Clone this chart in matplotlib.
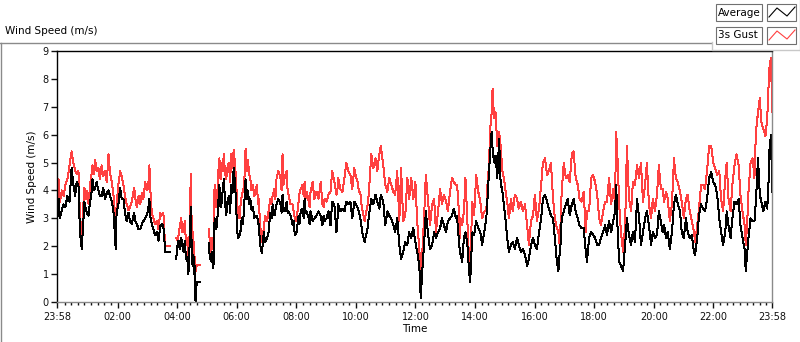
import numpy as np
import matplotlib
matplotlib.use("Agg")
import matplotlib.pyplot as plt
from matplotlib.patches import Rectangle
from matplotlib.lines import Line2D

# hours after 23:58 (start of the record), NaN marks a gap in the logging
hours = [
    0.00, 0.05, 0.10, 0.16, 0.22, 0.28, 0.35, 0.42, 0.49, 0.55, 0.61, 0.66, 0.72, 0.77, 0.83, 0.88,
    0.92, 0.97, 1.00, 1.06, 1.11, 1.15, 1.19, 1.24, 1.28, 1.33, 1.39, 1.44, 1.50, 1.55, 1.61, 1.67,
    1.73, 1.78, 1.84, 1.90, 1.95, 1.97, 2.00, 2.06, 2.12, 2.17, 2.23, 2.28, 2.34, 2.40, 2.45, 2.51,
    2.59, 2.63, 2.68, 2.74, 2.79, 2.85, 2.90, 2.96, 3.01, 3.06, 3.10, 3.14, 3.18, 3.24, 3.29, 3.35,
    3.41, 3.46, 3.52, 3.57, 3.60, 3.63, 3.80, 3.88, 4.00, 4.04, 4.08, 4.12, 4.17, 4.21, 4.25, 4.29,
    4.33, 4.37, 4.41, 4.45, 4.49, 4.52, 4.55, 4.58, 4.60, 4.63, 4.65, 4.69, 4.81, 4.95, 5.09, 5.13,
    5.18, 5.22, 5.25, 5.29, 5.33, 5.37, 5.41, 5.45, 5.49, 5.52, 5.56, 5.60, 5.64, 5.68, 5.72, 5.77,
    5.81, 5.85, 5.89, 5.93, 5.97, 6.00, 6.05, 6.09, 6.13, 6.17, 6.20, 6.24, 6.27, 6.30, 6.33, 6.37,
    6.41, 6.45, 6.49, 6.53, 6.58, 6.62, 6.67, 6.71, 6.75, 6.77, 6.82, 6.88, 6.94, 6.99, 7.05, 7.10,
    7.16, 7.20, 7.24, 7.30, 7.33, 7.37, 7.43, 7.50, 7.54, 7.57, 7.60, 7.64, 7.71, 7.74, 7.77, 7.84,
    7.91, 7.95, 7.98, 8.04, 8.11, 8.14, 8.18, 8.24, 8.28, 8.31, 8.34, 8.38, 8.45, 8.48, 8.51, 8.58,
    8.64, 8.71, 8.78, 8.85, 8.91, 8.95, 8.98, 9.05, 9.11, 9.18, 9.24, 9.31, 9.38, 9.41, 9.44, 9.51,
    9.58, 9.65, 9.71, 9.78, 9.85, 9.91, 9.98, 10.04, 10.10, 10.13, 10.18, 10.22, 10.26, 10.33, 10.37, 10.41,
    10.45, 10.49, 10.55, 10.62, 10.69, 10.75, 10.82, 10.87, 10.95, 11.02, 11.09, 11.15, 11.22, 11.29, 11.35, 11.42,
    11.49, 11.55, 11.62, 11.69, 11.76, 11.82, 11.89, 11.96, 12.03, 12.09, 12.16, 12.21, 12.25, 12.32, 12.38, 12.45,
    12.52, 12.59, 12.66, 12.72, 12.79, 12.86, 12.92, 12.99, 13.06, 13.12, 13.19, 13.26, 13.32, 13.39, 13.43, 13.46,
    13.49, 13.52, 13.55, 13.60, 13.66, 13.71, 13.77, 13.83, 13.87, 13.94, 14.00, 14.07, 14.14, 14.21, 14.27, 14.34,
    14.41, 14.45, 14.50, 14.54, 14.59, 14.62, 14.67, 14.72, 14.78, 14.84, 14.89, 14.95, 15.00, 15.06, 15.11, 15.17,
    15.24, 15.30, 15.37, 15.44, 15.50, 15.57, 15.64, 15.71, 15.78, 15.84, 15.91, 15.98, 16.04, 16.11, 16.18, 16.25,
    16.31, 16.38, 16.45, 16.51, 16.58, 16.65, 16.71, 16.78, 16.83, 16.87, 16.90, 16.94, 17.01, 17.08, 17.14, 17.21,
    17.28, 17.34, 17.41, 17.48, 17.54, 17.61, 17.68, 17.75, 17.79, 17.86, 17.93, 18.00, 18.06, 18.13, 18.20, 18.26,
    18.33, 18.40, 18.46, 18.53, 18.60, 18.67, 18.73, 18.77, 18.82, 18.87, 18.93, 19.00, 19.07, 19.13, 19.20, 19.27,
    19.33, 19.40, 19.47, 19.54, 19.60, 19.67, 19.74, 19.80, 19.87, 19.94, 20.00, 20.07, 20.14, 20.20, 20.27, 20.33,
    20.38, 20.44, 20.50, 20.57, 20.64, 20.71, 20.77, 20.84, 20.91, 20.97, 21.04, 21.11, 21.17, 21.24, 21.31, 21.38,
    21.42, 21.49, 21.55, 21.62, 21.69, 21.75, 21.82, 21.89, 21.96, 22.03, 22.09, 22.16, 22.23, 22.29, 22.36, 22.43,
    22.48, 22.54, 22.61, 22.67, 22.74, 22.81, 22.88, 22.94, 23.01, 23.08, 23.12, 23.17, 23.21, 23.28, 23.35, 23.41,
    23.46, 23.53, 23.59, 23.64, 23.71, 23.78, 23.84, 23.88, 23.92, 23.97, 24.00,
]

nan = float("nan")

average = [
    2.75, 3.70, 3.00, 3.30, 3.50, 3.40, 3.80, 3.60, 4.80, 4.20, 3.80, 4.30, 4.20, 2.50, 1.90, 2.80,
    3.60, 3.30, 3.20, 3.10, 3.60, 3.80, 4.40, 4.00, 4.10, 4.30, 4.00, 3.80, 3.80, 4.10, 3.70, 3.90,
    4.00, 3.80, 3.60, 3.20, 2.30, 1.90, 3.20, 3.50, 4.10, 3.70, 3.70, 3.20, 2.90, 3.20, 2.90, 2.80,
    3.20, 2.90, 2.80, 2.60, 2.60, 2.80, 2.90, 3.00, 3.10, 3.30, 3.70, 3.00, 2.80, 2.60, 2.40, 2.50,
    2.20, 2.70, 2.80, 2.70, 2.30, 1.80, 1.80, nan, 1.55, 2.00, 2.20, 1.90, 2.30, 2.00, 1.80, 2.20,
    1.55, 1.60, 1.00, 2.00, 3.40, 2.00, 1.30, 1.70, 1.00, 1.30, 0.00, 0.73, 0.73, nan, 2.10, 1.60,
    1.45, 1.80, 1.20, 3.00, 2.60, 2.75, 3.50, 4.20, 3.40, 3.50, 4.00, 4.40, 3.60, 3.10, 3.60, 3.80,
    3.20, 4.20, 3.90, 4.80, 4.30, 3.80, 2.50, 2.30, 2.40, 2.60, 3.00, 2.80, 3.20, 3.80, 4.40, 3.70,
    4.00, 3.50, 3.70, 3.30, 3.40, 3.00, 3.10, 3.10, 2.90, 2.75, 2.05, 1.75, 2.50, 2.15, 2.30, 2.50,
    3.20, 3.00, 3.50, 3.10, 3.30, 3.50, 3.70, 3.50, 3.20, 3.85, 3.40, 3.25, 3.60, 3.20, 3.25, 3.10,
    2.75, 2.90, 2.40, 2.50, 3.10, 2.80, 3.25, 3.35, 3.00, 3.70, 3.20, 3.25, 3.00, 2.80, 3.25, 2.90,
    3.00, 3.10, 3.25, 3.10, 2.75, 3.10, 2.90, 3.00, 3.25, 2.75, 3.60, 3.50, 2.50, 2.90, 3.50, 3.25,
    3.35, 3.25, 3.60, 3.50, 3.60, 3.00, 3.60, 3.50, 3.35, 3.25, 3.00, 2.70, 2.40, 2.15, 2.40, 2.50,
    2.90, 3.25, 3.70, 3.50, 3.85, 3.60, 3.35, 3.85, 3.60, 2.75, 3.25, 3.10, 3.00, 2.75, 2.50, 3.00,
    2.05, 1.55, 1.80, 2.15, 2.05, 2.50, 2.30, 2.65, 2.15, 1.80, 1.30, 0.13, 0.95, 2.05, 3.25, 2.50,
    1.90, 2.05, 2.50, 2.30, 2.50, 2.65, 3.00, 2.75, 2.50, 2.90, 3.00, 3.10, 3.35, 3.00, 3.10, 2.50,
    2.30, 1.80, 1.70, 1.45, 2.30, 2.50, 2.15, 1.10, 0.73, 2.50, 2.40, 2.90, 2.65, 2.50, 2.05, 2.50,
    3.00, 3.70, 4.65, 5.40, 6.10, 5.50, 5.00, 5.25, 4.45, 5.85, 4.30, 3.95, 3.50, 2.90, 2.30, 1.80,
    2.05, 2.15, 1.90, 2.30, 2.05, 1.80, 1.90, 1.70, 1.30, 1.55, 2.05, 2.30, 2.05, 1.90, 2.50, 3.00,
    3.70, 3.85, 3.60, 3.35, 3.10, 3.00, 2.30, 1.45, 1.10, 1.70, 2.05, 3.00, 3.25, 3.50, 3.70, 3.10,
    3.50, 3.70, 3.25, 3.00, 2.75, 2.65, 2.65, 1.80, 1.45, 2.30, 2.50, 2.40, 2.30, 2.05, 2.05, 2.30,
    2.50, 2.75, 2.40, 2.90, 2.50, 2.90, 3.25, 4.20, 2.50, 1.45, 1.30, 1.10, 2.05, 3.00, 2.40, 2.05,
    2.50, 2.15, 3.70, 3.00, 2.05, 2.50, 3.00, 3.25, 2.75, 2.05, 2.50, 2.30, 2.40, 3.25, 2.90, 2.50,
    2.75, 2.30, 2.50, 1.90, 2.50, 3.50, 3.85, 3.50, 3.25, 2.50, 2.30, 3.00, 2.50, 2.30, 2.40, 1.80,
    1.70, 2.30, 3.10, 3.50, 3.35, 3.25, 3.70, 4.45, 4.65, 4.30, 4.20, 3.85, 3.00, 2.50, 2.05, 2.50,
    3.25, 2.75, 2.30, 3.00, 3.60, 3.50, 3.70, 2.75, 2.30, 1.90, 1.10, 1.80, 2.30, 3.00, 2.90, 2.90,
    3.60, 5.15, 3.85, 3.60, 3.25, 3.60, 3.35, 4.20, 5.60, 6.00, 3.95,
]

gust = [
    3.20, 4.40, 3.60, 4.00, 3.80, 4.20, 4.40, 4.90, 5.40, 5.00, 4.70, 4.60, 4.70, 3.10, 2.30, 3.40,
    4.10, 3.70, 4.00, 3.50, 4.20, 4.50, 4.90, 4.60, 5.10, 4.70, 4.80, 4.40, 4.90, 4.50, 4.70, 4.30,
    5.30, 4.60, 4.30, 3.80, 2.80, 2.30, 3.50, 4.20, 4.70, 4.50, 4.20, 3.80, 3.50, 3.30, 3.40, 3.60,
    4.10, 3.70, 3.40, 3.80, 3.50, 3.90, 3.70, 4.30, 4.00, 4.10, 4.90, 3.90, 3.20, 3.00, 2.80, 2.90,
    2.60, 3.20, 3.10, 3.20, 2.60, 2.00, 2.00, nan, 2.30, 2.20, 2.40, 2.70, 3.00, 2.50, 2.50, 2.90,
    2.05, 2.30, 1.60, 2.40, 4.60, 2.80, 2.50, 2.20, 1.80, 1.50, 1.10, 1.33, 1.33, nan, 2.60, 2.20,
    1.80, 2.30, 2.00, 4.20, 3.40, 3.60, 4.60, 5.15, 4.40, 5.00, 4.70, 5.30, 4.60, 4.40, 4.80, 5.00,
    4.30, 5.30, 4.80, 5.45, 5.00, 4.55, 3.50, 3.10, 3.00, 3.60, 3.80, 4.00, 4.10, 4.60, 5.50, 4.70,
    5.10, 4.60, 4.40, 4.00, 4.20, 3.80, 4.00, 4.20, 3.50, 3.70, 2.75, 2.15, 2.65, 3.10, 2.90, 3.25,
    3.70, 3.50, 3.85, 4.05, 3.70, 4.45, 4.70, 4.45, 4.00, 5.30, 4.20, 4.45, 4.70, 4.00, 3.85, 3.50,
    3.50, 3.20, 3.00, 2.90, 3.60, 3.90, 4.05, 4.20, 3.80, 4.30, 3.70, 3.95, 3.60, 3.40, 3.95, 4.30,
    3.70, 3.95, 3.70, 4.30, 3.50, 3.40, 3.70, 3.60, 3.85, 3.95, 4.70, 4.30, 3.85, 4.00, 4.45, 4.05,
    3.95, 4.45, 5.00, 4.70, 4.55, 4.05, 4.80, 4.45, 4.30, 3.95, 3.95, 3.50, 3.25, 2.90, 3.20, 3.35,
    3.70, 4.30, 5.30, 4.80, 5.15, 4.70, 5.30, 5.60, 4.90, 4.20, 3.95, 4.45, 4.20, 3.95, 3.85, 4.70,
    2.90, 4.80, 2.90, 3.10, 4.45, 3.70, 4.45, 3.70, 4.30, 2.90, 1.90, 1.10, 1.55, 3.00, 4.55, 3.70,
    2.75, 3.50, 3.70, 2.50, 3.25, 4.05, 3.50, 3.85, 3.60, 3.25, 3.95, 4.45, 4.30, 4.20, 4.20, 3.70,
    3.25, 2.30, 3.00, 2.75, 3.25, 4.45, 3.00, 1.55, 1.30, 3.60, 3.10, 4.55, 3.95, 3.60, 3.00, 3.25,
    3.25, 4.20, 4.90, 6.20, 6.80, 7.65, 6.60, 6.80, 5.60, 6.10, 5.60, 4.70, 4.45, 3.95, 3.60, 3.00,
    3.70, 3.25, 3.85, 3.70, 3.35, 3.60, 3.25, 3.50, 2.75, 2.05, 2.90, 3.10, 3.85, 2.90, 3.35, 4.20,
    5.00, 5.15, 4.55, 4.70, 5.00, 3.70, 3.00, 2.65, 2.50, 2.05, 2.75, 3.95, 5.00, 4.45, 4.55, 4.30,
    5.30, 5.40, 4.45, 4.20, 3.70, 3.60, 3.95, 2.50, 3.25, 3.25, 4.45, 4.55, 4.30, 3.85, 3.00, 2.75,
    3.25, 3.60, 3.60, 4.45, 3.50, 4.05, 3.60, 6.10, 5.00, 3.50, 2.50, 1.80, 2.75, 5.60, 3.70, 3.25,
    4.30, 4.20, 4.90, 4.45, 5.00, 3.60, 4.20, 5.00, 3.50, 3.00, 3.70, 3.25, 3.85, 4.90, 4.05, 4.05,
    3.60, 3.95, 3.70, 2.90, 3.50, 5.15, 4.45, 4.30, 3.95, 3.60, 3.00, 3.70, 3.85, 3.25, 2.90, 2.50,
    2.15, 2.75, 3.35, 4.20, 4.20, 4.05, 4.70, 5.60, 5.60, 5.00, 4.80, 4.55, 4.70, 3.70, 3.25, 4.45,
    5.00, 3.70, 3.25, 4.20, 4.90, 5.30, 4.90, 3.85, 3.25, 2.75, 2.05, 2.90, 3.95, 5.00, 5.15, 4.45,
    6.10, 6.80, 7.30, 6.45, 6.20, 5.95, 6.60, 7.65, 8.50, 8.75, 6.80,
]

major_hours = [0.0] + [2 + 1 / 30 + 2 * k for k in range(11)] + [24.0]
major_labels = ["23:58", "02:00", "04:00", "06:00", "08:00", "10:00", "12:00",
                "14:00", "16:00", "18:00", "20:00", "22:00", "23:58"]
minor_hours = [1 / 30 + k * 2 / 9 for k in range(108) if k % 9 != 0]

W, H = 800, 342
fig = plt.figure(figsize=(W / 100, H / 100), dpi=100)
fig.patch.set_facecolor("white")


def fx(x):
    return x / W


def fy(y):
    return 1 - y / H


ax = fig.add_axes([fx(57), fy(302), 715 / W, 251 / H])
ax.plot(hours, gust, color="#ff4040", lw=0.72, antialiased=False)
ax.plot(hours, average, color="black", lw=0.72, antialiased=False)
ax.set_xlim(0, 24)
ax.set_ylim(0, 9)

ax.set_xticks(major_hours)
ax.set_xticklabels(major_labels)
ax.set_xticks(minor_hours, minor=True)
ax.set_yticks(range(10))
ax.tick_params(axis="both", which="major", direction="out", length=4, width=1,
               labelsize=7, colors="#101010", pad=2)
ax.tick_params(axis="x", which="minor", direction="out", length=2.5, width=1, colors="#101010")
ax.tick_params(axis="x", which="major", length=4, pad=3)

for side in ["left", "top"]:
    ax.spines[side].set_color("black")
    ax.spines[side].set_linewidth(1.0)
for side in ["right", "bottom"]:
    ax.spines[side].set_color("#8a8a8a")
    ax.spines[side].set_linewidth(1.0)

ax.set_ylabel("Wind Speed (m/s)", fontsize=7.5, labelpad=4)
ax.set_xlabel("Time", fontsize=7.5, labelpad=2)

# chart caption and frame
fig.text(fx(5), fy(31), "Wind Speed (m/s)", fontsize=7.5, va="center", ha="left")
fig.add_artist(Line2D([fx(0), fx(711)], [fy(42.5), fy(42.5)], color="#8a8a8a", lw=1,
                      transform=fig.transFigure))
fig.add_artist(Line2D([fx(0.5), fx(0.5)], [fy(42.5), fy(342)], color="#8a8a8a", lw=1,
                      transform=fig.transFigure))
fig.add_artist(Line2D([fx(711.5), fx(711.5), fx(800)], [fy(42), fy(50), fy(50)],
                      color="#c8c8c8", lw=1, transform=fig.transFigure))
fig.add_artist(Line2D([fx(799.5), fx(799.5)], [fy(0), fy(50)], color="#c8c8c8", lw=1,
                      transform=fig.transFigure))

# legend boxes
legend_rows = [("Average", "black", 4), ("3s Gust", "#ff4040", 27)]
for name, col, top in legend_rows:
    fig.add_artist(Rectangle((fx(716), fy(top + 17)), 46 / W, 17 / H, transform=fig.transFigure,
                             facecolor="white", edgecolor="#707070", lw=0.8))
    fig.add_artist(Rectangle((fx(767), fy(top + 17)), 29 / W, 17 / H, transform=fig.transFigure,
                             facecolor="white", edgecolor="#707070", lw=0.8))
    fig.text(fx(718), fy(top + 8.5), name, fontsize=7.5, va="center", ha="left")
    zx = [769, 777, 787, 795]
    zy = [top + 13, top + 4, top + 12, top + 3]
    fig.add_artist(Line2D([fx(v) for v in zx], [fy(v) for v in zy], color=col, lw=0.8,
                          transform=fig.transFigure))

fig.savefig("out.png", dpi=100)
